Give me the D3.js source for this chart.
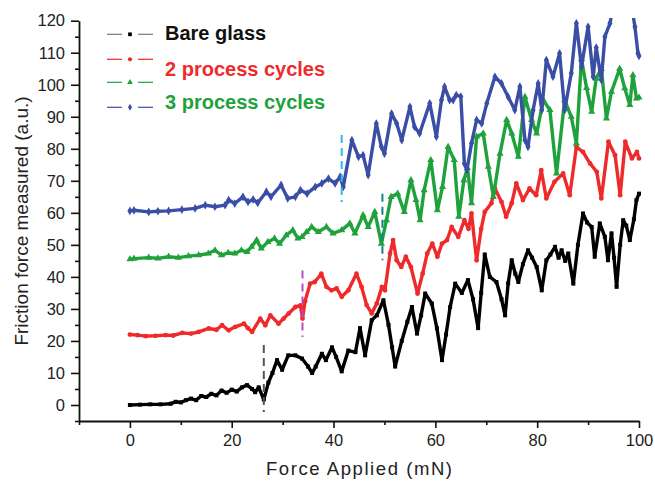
<!DOCTYPE html>
<html>
<head>
<meta charset="utf-8">
<script src="https://cdn.jsdelivr.net/npm/d3@7"></script>
<style>
  html, body { margin: 0; padding: 0; background: #fff; }
  svg { display: block; font-family: Arial, "Liberation Sans", sans-serif; }
</style>
</head>
<body>
<svg id="chart" width="655" height="481"></svg>
<script>
// ---------------- data ----------------
const xTicks = [0, 20, 40, 60, 80, 100];
const xMinorTicks = [-10, 10, 30, 50, 70, 90];
const yTicks = [0, 10, 20, 30, 40, 50, 60, 70, 80, 90, 100, 110, 120];
const yMinorTicks = [-5, 5, 15, 25, 35, 45, 55, 65, 75, 85, 95, 105, 115];

const legendLabelRows = ["Bare glass", "2 process cycles", "3 process cycles"];

// [force (mN), friction force (a.u.)]
const bareGlass = [[0,0],[2,0.1],[4,0.2],[6,0.2],[8,0.4],[9,1],[10,0.8],[11,1.5],[12,2],[13,1.5],[14,2.8],[15,2.5],[16,3.5],[17,3],[18,4.5],[19,3.8],[20,4.8],[21,4.2],[22,5.5],[23,6.2],[24,5],[24.6,4],[25.3,5.5],[26.3,1.7],[27.2,7],[28,10],[28.9,14],[29.9,11],[31.1,15.5],[32.5,15.5],[33.8,14.5],[35,12],[35.8,10],[36.5,12],[37.7,16],[38.5,14],[39.7,18],[40.5,15],[41.6,10.5],[42.9,17],[44.3,16.5],[45.2,24],[46.2,15.5],[47.5,26.5],[48.5,28],[49.8,32.7],[50.8,25],[51.5,18],[52.1,12],[53.4,20],[54.5,26],[55.4,30.6],[56.4,22.3],[57.2,28],[58,34.8],[59.3,31.7],[60.3,24],[61.3,14],[62.1,22],[62.9,30.6],[63.9,37.9],[65.2,35],[66.4,39],[67.4,33],[68.4,24],[69,35],[69.7,47],[70.7,40],[72,38.4],[73,33],[73.7,28],[74.3,38],[75,45.2],[75.7,41],[76.3,38.4],[77.2,44],[78.2,48.3],[79,46],[79.9,43.1],[80.9,35.8],[81.8,45.2],[82.6,47],[83.5,49.4],[84.2,46],[84.8,48.3],[85.5,45],[86.1,47.3],[87.1,37.9],[88,50],[89,59.8],[89.8,57],[90.7,55.6],[91.3,46.3],[92.3,56.7],[93.3,52.5],[93.9,45.2],[94.6,53.6],[95.1,46],[95.6,36.9],[96.3,50],[96.9,57.7],[97.5,56],[98.2,51.5],[99,58],[99.5,64],[100,66]];

const twoCycles = [[0,22],[1.5,21.8],[3.1,21.5],[5,21.6],[7,21.8],[8.5,21.7],[10.3,22.5],[12,22.3],[13.5,22.8],[15.5,23.9],[17,23.5],[18.1,24.9],[19.4,23.3],[20.7,24.4],[22.4,25.4],[23.2,24],[24,22.8],[25.6,27],[26.6,24.9],[27.6,28],[29.2,25.4],[30.2,27],[31.2,28.6],[32.5,30.6],[33.5,31.1],[33.9,27],[34.4,32.4],[35.4,37.9],[36.3,38.4],[37.6,41],[38.6,36.9],[39.6,35.8],[40.6,36.4],[41.6,33.8],[42.9,35.8],[44.5,41],[45.5,36.9],[46.5,31.2],[47.5,28.6],[48.5,31.7],[49.5,36.9],[50.1,35.8],[51.1,47.3],[51.7,51.5],[52.4,45.2],[53.3,43.1],[54.2,46.3],[55.2,43.1],[56.5,34.8],[57.5,41],[58.4,47.3],[59.4,50.4],[60.4,46.3],[61.3,50.4],[62.3,51.5],[63.2,55.6],[64.5,52.5],[65.7,57.7],[66.5,55],[67.1,59.8],[68.1,45.2],[69,55],[69.7,60.3],[71,63],[71.7,67.6],[73,63.4],[73.9,58.8],[75,63],[75.9,69.2],[77.2,64],[78.5,67.6],[79.8,65.5],[80.8,73.3],[81.8,64.5],[83.4,69.7],[85.1,72.3],[86.4,65.5],[87.7,80.6],[89,79],[90.4,75.4],[91.7,72.8],[92.6,64.5],[94,82.2],[95.3,78],[96.3,65.5],[97.3,82.2],[98.6,77],[99.6,79],[100,77]];

const threeCycles = [[0,45.5],[0.8,45.7],[3.7,46],[5.5,45.8],[7.6,46.3],[9.5,46],[11.5,46.5],[13.5,46.8],[15.4,47.3],[16.7,48.3],[18,46.8],[19.3,47.5],[20.6,47.3],[21.9,48.3],[23,47.8],[23.9,49.4],[24.9,51.5],[25.8,48.9],[27.1,50.9],[28.4,52],[29.4,50.4],[30.7,53],[32,54.6],[33,52],[33.8,52.5],[34.7,54],[35.7,55.6],[37,54],[38.6,55.6],[39.9,53.6],[41.6,54.6],[43.2,56.7],[44.2,53.6],[45.8,59.3],[46.8,55.6],[48.1,60.3],[49.4,50.4],[50.4,57.7],[51.3,65],[52.6,66],[53.9,60.3],[55.2,70.2],[56.2,64],[57,57.7],[57.8,67.1],[59.1,76.5],[60.4,60.8],[61.4,68.1],[62.5,80.6],[63.7,76.5],[64.6,58.8],[65.6,70.2],[66.3,74],[67.1,63],[68.1,83.8],[69.4,84.8],[70.4,74.4],[71.4,65],[72.7,78.5],[74,89],[75,84.8],[76.3,77.5],[77.6,96.2],[78.9,89],[79.9,84.8],[81.2,95.2],[82.5,92.1],[83.8,72.3],[85.4,95.2],[86.7,90],[87.7,81.7],[88.7,108],[89.7,99],[90.7,91.6],[91.6,102],[92.6,105],[93.6,89.5],[94.6,97.8],[96.2,105],[97.2,98.9],[98.2,93.7],[98.8,103],[99.5,95.7],[100,96]];

// fourth trace (blue) – its legend label text is shared with the green row in the original
const blueTrace = [[0,60.6],[0.8,60.8],[3.7,60.3],[5.5,60.5],[7.6,60.6],[10.2,61],[12.8,61.4],[14.8,62.4],[16.7,61.9],[18.7,62.4],[19.4,64],[20.6,62.9],[22.2,65],[23.2,63.4],[24.2,64.2],[25.1,63.1],[26.8,66.6],[27.7,65],[29.7,68.7],[31,64.5],[32.5,65],[33.5,67.1],[34.8,66],[36.4,68.1],[37.7,69.2],[39,70.7],[40.3,69.2],[41.3,71.3],[41.9,68.1],[43.6,82.7],[44.9,77.5],[45.8,78],[46.8,71.8],[48.4,87.9],[49.4,80.6],[50,78.5],[51.4,91],[52.4,87.9],[53.4,82.7],[55,93.1],[55.9,86.9],[56.9,84.8],[58.9,94.2],[60.2,83.8],[61.2,95.2],[61.8,99.4],[62.8,95.2],[63.5,95.2],[64.1,96.8],[65,96.3],[65.7,75.4],[66.2,73.3],[67.1,81.7],[68.1,89],[69.1,87.9],[70.1,94.2],[71.7,102.5],[73,100.4],[74.3,96.2],[75.6,92.1],[76.6,99.4],[77.6,82.7],[78.2,80.6],[79.2,92.1],[80.2,100.4],[80.9,92.1],[81.8,107.7],[83.1,102.5],[84.4,109.8],[85.4,92.1],[86.7,103.6],[87.7,119.2],[88.7,105.6],[90,118.1],[91,102.5],[91.6,111.6],[92.6,101.5],[93.3,115],[94.3,119.2],[95,125],[98.5,125],[99.2,118.1],[99.8,109.8],[100,109]];

// vertical dashed transition markers: [force, from value, to value]
const transitions = [[26.3,-2.2,18.7],[33.9,21.2,42],[41.6,63.4,84.3],[49.6,45.2,66]];

// ---------------- chart ----------------
const svg = d3.select("#chart");
const x = d3.scaleLinear().domain([-10, 100]).range([79, 639]);
const y = d3.scaleLinear().domain([-5, 120]).range([421, 20.7]);

svg.append("defs").append("clipPath").attr("id", "plotClip")
  .append("rect").attr("x", 79).attr("y", 18).attr("width", 565).attr("height", 405);

const traces = [
  { data: bareGlass,   color: "#000000", sym: d3.symbolSquare,   size: 16 },
  { data: twoCycles,   color: "#ee2a2a", sym: d3.symbolCircle,   size: 18 },
  { data: threeCycles, color: "#1fa23c", sym: d3.symbolTriangle, size: 22 },
  { data: blueTrace,   color: "#3a4ea6", sym: d3.symbolDiamond,  size: 22 }
];
const dashColors = ["#555555", "#b44fc4", "#2fb9ea", "#17808c"];

const plot = svg.append("g").attr("clip-path", "url(#plotClip)");
const line = d3.line().x(d => x(d[0])).y(d => y(d[1]));

traces.forEach(t => {
  const g = plot.append("g");
  g.append("path").datum(t.data)
    .attr("d", line).attr("fill", "none")
    .attr("stroke", t.color).attr("stroke-width", 3.4)
    .attr("stroke-linejoin", "round");
  g.selectAll("path.m").data(t.data).join("path").attr("class", "m")
    .attr("transform", d => `translate(${x(d[0])},${y(d[1])})`)
    .attr("d", d3.symbol().type(t.sym).size(t.size))
    .attr("fill", t.color);
});

svg.append("g").selectAll("line").data(transitions).join("line")
  .attr("x1", d => x(d[0])).attr("x2", d => x(d[0]))
  .attr("y1", d => y(d[2])).attr("y2", d => y(d[1]))
  .attr("stroke", (d, i) => dashColors[i]).attr("stroke-width", 2)
  .attr("stroke-dasharray", "8,5");

// axes
const yAxis = svg.append("g").attr("transform", "translate(79,0)")
  .call(d3.axisLeft(y).tickValues(yTicks).tickSize(8).tickSizeOuter(0).tickPadding(6));
svg.append("g").attr("transform", "translate(79,0)")
  .call(d3.axisLeft(y).tickValues(yMinorTicks).tickSize(4).tickSizeOuter(0).tickFormat(""))
  .select(".domain").remove();
const xAxis = svg.append("g").attr("transform", "translate(0,421)")
  .call(d3.axisBottom(x).tickValues(xTicks).tickSize(7).tickSizeOuter(0).tickPadding(6));
svg.append("g").attr("transform", "translate(0,421)")
  .call(d3.axisBottom(x).tickValues(xMinorTicks).tickSize(4).tickSizeOuter(0).tickFormat(""))
  .select(".domain").remove();
svg.selectAll(".domain").attr("stroke", "#111").attr("stroke-width", 1.8);
svg.selectAll(".tick line").attr("stroke", "#111").attr("stroke-width", 1.6);
svg.selectAll(".tick text").attr("font-size", "16.5px").attr("fill", "#222")
  .attr("font-family", "Arial, 'Liberation Sans', sans-serif");

// axis titles
svg.append("text").attr("x", 359).attr("y", 475).attr("text-anchor", "middle")
  .attr("font-size", "18.5px").attr("fill", "#222")
  .attr("textLength", 186).attr("lengthAdjust", "spacing")
  .text("Force Applied (mN)");
svg.append("text").attr("transform", "translate(28,221) rotate(-90)").attr("text-anchor", "middle")
  .attr("font-size", "19px").attr("fill", "#222")
  .text("Friction force measured (a.u.)");

// legend
const legendMarkY = [34.3, 59.3, 82.3, 107.3];
const legendLineColors = ["#7a7a7a", "#ee2a2a", "#1fa23c", "#3a4ea6"];
const legend = svg.append("g");
traces.forEach((t, i) => {
  const ly = legendMarkY[i];
  legend.append("line").attr("x1", 107).attr("x2", 122).attr("y1", ly).attr("y2", ly)
    .attr("stroke", legendLineColors[i]).attr("stroke-width", 1.2);
  legend.append("line").attr("x1", 138).attr("x2", 153).attr("y1", ly).attr("y2", ly)
    .attr("stroke", legendLineColors[i]).attr("stroke-width", 1.2);
  legend.append("path").attr("transform", `translate(130,${ly})`)
    .attr("d", d3.symbol().type(t.sym).size(14)).attr("fill", t.color);
});
const legendTextY = [40, 75.5, 109];
const legendTextColors = ["#111111", "#ee2a2a", "#1fa23c"];
legend.selectAll("text").data(legendLabelRows).join("text")
  .attr("x", 165).attr("y", (d, i) => legendTextY[i])
  .attr("font-size", "20px").attr("font-weight", "bold")
  .attr("fill", (d, i) => legendTextColors[i])
  .text(d => d);
</script>
</body>
</html>
